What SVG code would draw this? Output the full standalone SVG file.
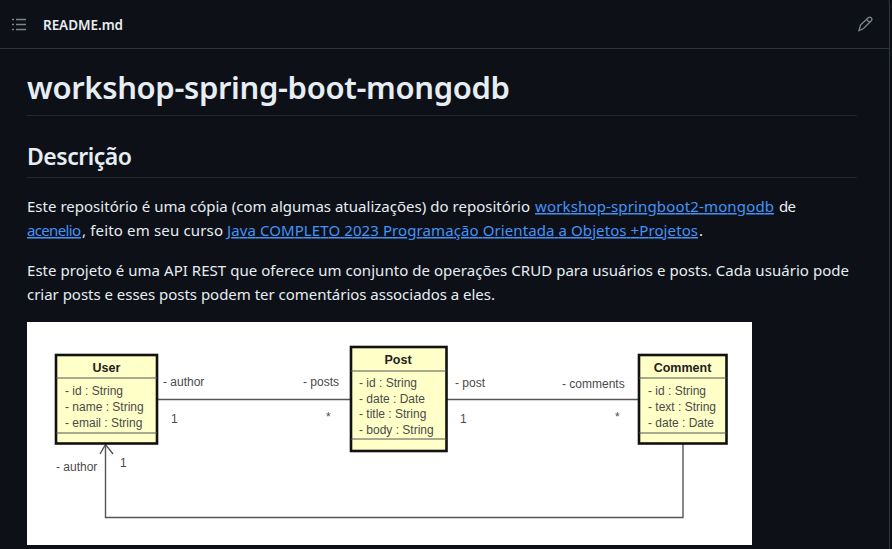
<svg xmlns="http://www.w3.org/2000/svg" width="892" height="549" viewBox="0 0 892 549">
<style>
.md{font-family:"Noto Sans","Open Sans","Liberation Sans",sans-serif;fill:#e6edf3}
.p{font-size:15px}
.a{fill:#4493f8;text-decoration:underline}
.uml{font-family:"Liberation Sans",Arial,sans-serif;font-size:12px;fill:#4a4a4a}
.t{font-family:"Liberation Sans",Arial,sans-serif;font-size:12.5px;font-weight:bold;fill:#222;text-anchor:middle}
.box{fill:#ffffc8;stroke:#111;stroke-width:2.6}
.div{stroke:#555;stroke-width:1;fill:none}
.con{stroke:#555;stroke-width:1.4;fill:none}
.rule{stroke:#21262d;stroke-width:1}
</style>
<rect width="892" height="549" fill="#0d1117"/>
<g id="header">
<path d="M889 0Q889.500 2 889.500 8V549" stroke="#30363d" fill="none"/>
<line x1="0" y1="48.500" x2="889" y2="48.500" stroke="#30363d"/>
<path d="M16 19.500H26M16 24.500H26M16 29.500H26" stroke="#7d8590" stroke-width="1.300"/>
<path d="M12 19.500H14M12 24.500H14M12 29.500H14" stroke="#7d8590" stroke-width="1.300"/>
<text x="43" y="30" class="md" font-size="13.500" font-weight="600" textLength="80">README.md</text>
<path d="M859 30.500L860.500 25L868.500 17.500Q870 16.500 871.500 18Q872.500 19.500 871.500 20.500L863.500 28.500Z M866.500 19.500L870 23" stroke="#7d8590" stroke-width="1.300" fill="none"/>
</g>
<g id="readme">
<text x="27" y="99" class="md" font-size="31" font-weight="600" textLength="483">workshop-spring-boot-mongodb</text>
<line class="rule" x1="27" y1="115.500" x2="857" y2="115.500"/>
<text x="27" y="165" class="md" font-size="23" font-weight="600" textLength="105">Descrição</text>
<line class="rule" x1="27" y1="177.500" x2="857" y2="177.500"/>
<text x="27" y="212" class="md p" textLength="503">Este repositório é uma cópia (com algumas atualizações) do repositório</text>
<text x="535" y="212" class="md p a" textLength="239">workshop-springboot2-mongodb</text>
<text x="779" y="212" class="md p" textLength="17">de</text>
<text x="27" y="236" class="md p a" textLength="54">acenelio</text>
<text x="82" y="236" class="md p" textLength="141">, feito em seu curso</text>
<text x="227" y="236" class="md p a" textLength="471">Java COMPLETO 2023 Programação Orientada a Objetos +Projetos</text>
<text x="699" y="236" class="md p">.</text>
<text x="27" y="276" class="md p" textLength="822">Este projeto é uma API REST que oferece um conjunto de operações CRUD para usuários e posts. Cada usuário pode</text>
<text x="27" y="300" class="md p" textLength="468">criar posts e esses posts podem ter comentários associados a eles.</text>
</g>
<rect id="diagram-bg" x="27" y="322" width="725" height="223" fill="#fff"/>
<g id="connectors">
<path class="con" d="M157 399.500H350"/>
<path class="con" d="M447 399.500H638"/>
<path class="con" d="M683 444V517.500H105.500V445"/>
<path class="con" d="M100 454L105.500 444.500L113 454"/>
</g>
<g id="user">
<rect class="box" x="56" y="355" width="101" height="88.500"/>
<path class="div" d="M56 378H157M56 433H157"/>
<text class="t" x="106.500" y="372">User</text>
<text class="uml" x="65" y="395">- id : String</text>
<text class="uml" x="65" y="411">- name : String</text>
<text class="uml" x="65" y="427">- email : String</text>
</g>
<g id="post">
<rect class="box" x="351" y="347" width="95.500" height="104"/>
<path class="div" d="M351 371H446.500M351 439H446.500"/>
<text class="t" x="398" y="364">Post</text>
<text class="uml" x="359" y="387">- id : String</text>
<text class="uml" x="359" y="403">- date : Date</text>
<text class="uml" x="359" y="418">- title : String</text>
<text class="uml" x="359" y="434">- body : String</text>
</g>
<g id="comment">
<rect class="box" x="639" y="355" width="87.500" height="88.500"/>
<path class="div" d="M639 378H726.500M639 433H726.500"/>
<text class="t" x="682.500" y="372">Comment</text>
<text class="uml" x="648" y="395">- id : String</text>
<text class="uml" x="648" y="411">- text : String</text>
<text class="uml" x="648" y="427">- date : Date</text>
</g>
<g id="labels">
<text class="uml" x="163" y="386">- author</text>
<text class="uml" x="303" y="386">- posts</text>
<text class="uml" x="171" y="423">1</text>
<text class="uml" x="326" y="421">*</text>
<text class="uml" x="455" y="387">- post</text>
<text class="uml" x="562" y="388">- comments</text>
<text class="uml" x="460" y="423">1</text>
<text class="uml" x="615" y="421">*</text>
<text class="uml" x="56" y="471">- author</text>
<text class="uml" x="120" y="467">1</text>
</g>
</svg>
